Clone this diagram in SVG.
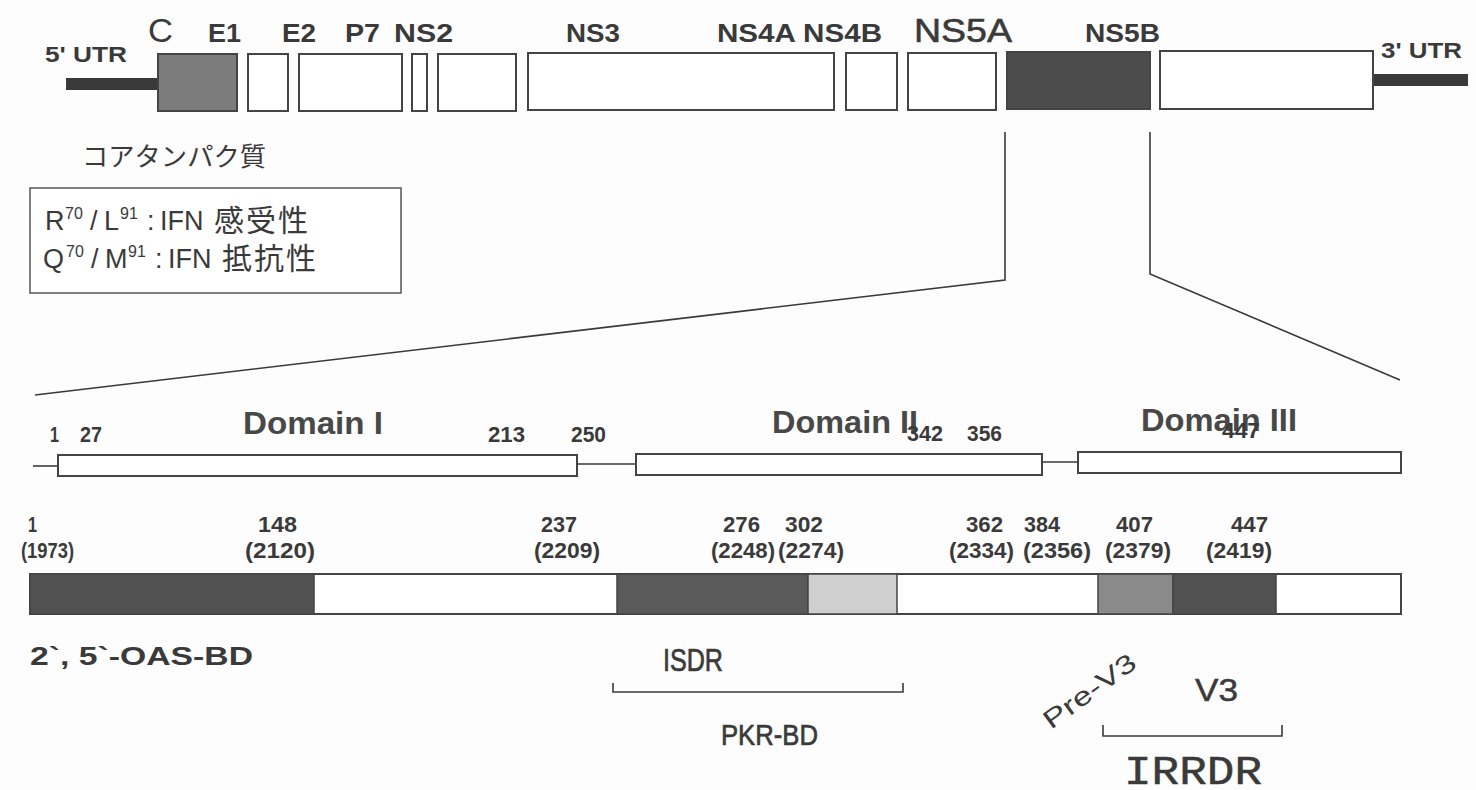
<svg xmlns="http://www.w3.org/2000/svg" width="1476" height="790" viewBox="0 0 1476 790">
<style>
.bg{fill:#fdfdfd}
.box{fill:#fff;stroke:#444;stroke-width:2}
.ln{stroke:#3a3a3a;stroke-width:1.6;fill:none}
.t{font-family:"Liberation Sans",Arial,sans-serif;fill:#3a3a3a}
.b{font-weight:bold}
.cjk{font-family:"Liberation Sans","Noto Sans CJK JP",sans-serif;fill:#3a3a3a}
.num{font-family:"Liberation Sans",Arial,sans-serif;fill:#3a3a3a;font-weight:bold;font-size:22px}
.dom{font-family:"Liberation Sans",Arial,sans-serif;fill:#484848;font-weight:bold;font-size:32px}
</style>
<rect class="bg" x="0" y="0" width="1476" height="790"/>

<g id="genome">
  <rect id="utr5" x="66" y="78" width="92" height="12" fill="#3a3a3a"/>
  <rect id="utr3" x="1373" y="74" width="95" height="12" fill="#3a3a3a"/>
  <rect id="C" class="box" x="158" y="54" width="79" height="57" style="fill:#7c7c7c"/>
  <rect id="E1" class="box" x="248" y="54" width="40" height="57"/>
  <rect id="E2P7" class="box" x="299" y="54" width="103" height="57"/>
  <rect id="NS2a" class="box" x="412" y="54" width="15" height="57"/>
  <rect id="NS2b" class="box" x="438" y="54" width="78" height="57"/>
  <rect id="NS3" class="box" x="528" y="53" width="306" height="57"/>
  <rect id="NS4B" class="box" x="846" y="53" width="51" height="57"/>
  <rect id="NS5A" class="box" x="908" y="53" width="88" height="57"/>
  <rect id="NS5B" class="box" x="1007" y="52" width="143" height="57" style="fill:#4c4c4c"/>
  <rect id="last" class="box" x="1160" y="51" width="213" height="58"/>
</g>

<g id="genome-labels">
  <text class="t b" x="45" y="62" font-size="22" textLength="82" lengthAdjust="spacingAndGlyphs">5' UTR</text>
  <text class="t" x="148" y="42" font-size="33" textLength="25" lengthAdjust="spacingAndGlyphs">C</text>
  <text class="t b" x="208" y="42" font-size="26" textLength="33" lengthAdjust="spacingAndGlyphs">E1</text>
  <text class="t b" x="282" y="42" font-size="26" textLength="34" lengthAdjust="spacingAndGlyphs">E2</text>
  <text class="t b" x="345" y="42" font-size="26" textLength="35" lengthAdjust="spacingAndGlyphs">P7</text>
  <text class="t b" x="394" y="42" font-size="26" textLength="59" lengthAdjust="spacingAndGlyphs">NS2</text>
  <text class="t b" x="566" y="42" font-size="26" textLength="54" lengthAdjust="spacingAndGlyphs">NS3</text>
  <text class="t b" x="717" y="42" font-size="26" textLength="165" lengthAdjust="spacingAndGlyphs">NS4A NS4B</text>
  <text class="t" x="914" y="42" font-size="33" textLength="98" lengthAdjust="spacingAndGlyphs" stroke="#3a3a3a" stroke-width="0.6">NS5A</text>
  <text class="t b" x="1085" y="42" font-size="26" textLength="75" lengthAdjust="spacingAndGlyphs">NS5B</text>
  <text class="t b" x="1381" y="58" font-size="22" textLength="81" lengthAdjust="spacingAndGlyphs">3' UTR</text>
  <text class="cjk" x="82" y="166" font-size="26" textLength="184" lengthAdjust="spacingAndGlyphs">コアタンパク質</text>
</g>

<g id="legend">
  <rect x="30" y="188" width="371" height="105" fill="#fff" stroke="#555" stroke-width="1.5"/>
  <text class="t" font-size="27" y="230"><tspan x="45">R</tspan><tspan x="65" y="219" font-size="16">70</tspan><tspan x="90" y="230">/</tspan><tspan x="104">L</tspan><tspan x="120" y="219" font-size="16">91</tspan><tspan x="147" y="230">:</tspan><tspan x="160">IFN</tspan></text>
  <text class="cjk" x="214" y="231" font-size="30" letter-spacing="2">感受性</text>
  <text class="t" font-size="27" y="268"><tspan x="43">Q</tspan><tspan x="66" y="257" font-size="16">70</tspan><tspan x="91" y="268">/</tspan><tspan x="105">M</tspan><tspan x="128" y="257" font-size="16">91</tspan><tspan x="155" y="268">:</tspan><tspan x="168">IFN</tspan></text>
  <text class="cjk" x="222" y="269" font-size="30" letter-spacing="2">抵抗性</text>
</g>

<g id="connectors">
  <polyline class="ln" points="1005,132 1005,280 35,395"/>
  <polyline class="ln" points="1150,132 1150,274 1400,380"/>
  <line class="ln" x1="33" y1="466" x2="58" y2="466"/>
  <line class="ln" x1="577" y1="464" x2="636" y2="464"/>
  <line class="ln" x1="1042" y1="462" x2="1078" y2="462"/>
  <polyline class="ln" points="613,683 613,692 903,692 903,683"/>
  <polyline class="ln" points="1103,725 1103,736 1282,736 1282,725"/>
</g>

<g id="domains">
  <rect id="dom1" class="box" x="58" y="455" width="519" height="21"/>
  <rect id="dom2" class="box" x="636" y="454" width="406" height="21"/>
  <rect id="dom3" class="box" x="1078" y="452" width="323" height="21"/>
  <text class="dom" x="243" y="434" textLength="140" lengthAdjust="spacingAndGlyphs">Domain I</text>
  <text class="dom" x="772" y="433" textLength="146" lengthAdjust="spacingAndGlyphs">Domain II</text>
  <text class="dom" x="1141" y="431" textLength="156" lengthAdjust="spacingAndGlyphs">Domain III</text>
  <text class="num" x="50" y="442" textLength="9" lengthAdjust="spacingAndGlyphs">1</text>
  <text class="num" x="80" y="442" textLength="22" lengthAdjust="spacingAndGlyphs">27</text>
  <text class="num" x="488" y="442" textLength="37" lengthAdjust="spacingAndGlyphs">213</text>
  <text class="num" x="571" y="442" textLength="35" lengthAdjust="spacingAndGlyphs">250</text>
  <text class="num" x="907" y="441" textLength="36" lengthAdjust="spacingAndGlyphs">342</text>
  <text class="num" x="967" y="441" textLength="35" lengthAdjust="spacingAndGlyphs">356</text>
  <text class="num" x="1222" y="438" textLength="38" lengthAdjust="spacingAndGlyphs">447</text>
</g>

<g id="ns5a-bar">
  <rect x="30" y="574" width="1371" height="40" fill="#fff" stroke="#444" stroke-width="2"/>
  <rect x="30" y="574" width="284" height="40" fill="#525252" stroke="#444" stroke-width="1.5"/>
  <rect x="617" y="574" width="191" height="40" fill="#5a5a5a" stroke="#444" stroke-width="1.5"/>
  <rect x="808" y="574" width="89" height="40" fill="#cfcfcf" stroke="#444" stroke-width="1.5"/>
  <rect x="1098" y="574" width="75" height="40" fill="#8a8a8a" stroke="#444" stroke-width="1.5"/>
  <rect x="1173" y="574" width="103" height="40" fill="#525252" stroke="#444" stroke-width="1.5"/>
</g>

<g id="positions">
  <text class="num" x="28" y="532" textLength="9" lengthAdjust="spacingAndGlyphs">1</text>
  <text class="num" x="21" y="558" textLength="53" lengthAdjust="spacingAndGlyphs">(1973)</text>
  <text class="num" x="258" y="532" textLength="39" lengthAdjust="spacingAndGlyphs">148</text>
  <text class="num" x="245" y="558" textLength="70" lengthAdjust="spacingAndGlyphs">(2120)</text>
  <text class="num" x="541" y="532" textLength="36" lengthAdjust="spacingAndGlyphs">237</text>
  <text class="num" x="534" y="558" textLength="66" lengthAdjust="spacingAndGlyphs">(2209)</text>
  <text class="num" x="723" y="532" textLength="37" lengthAdjust="spacingAndGlyphs">276</text>
  <text class="num" x="711" y="558" textLength="64" lengthAdjust="spacingAndGlyphs">(2248)</text>
  <text class="num" x="785" y="532" textLength="38" lengthAdjust="spacingAndGlyphs">302</text>
  <text class="num" x="778" y="558" textLength="66" lengthAdjust="spacingAndGlyphs">(2274)</text>
  <text class="num" x="966" y="532" textLength="37" lengthAdjust="spacingAndGlyphs">362</text>
  <text class="num" x="949" y="558" textLength="65" lengthAdjust="spacingAndGlyphs">(2334)</text>
  <text class="num" x="1024" y="532" textLength="36" lengthAdjust="spacingAndGlyphs">384</text>
  <text class="num" x="1023" y="558" textLength="68" lengthAdjust="spacingAndGlyphs">(2356)</text>
  <text class="num" x="1116" y="532" textLength="37" lengthAdjust="spacingAndGlyphs">407</text>
  <text class="num" x="1105" y="558" textLength="66" lengthAdjust="spacingAndGlyphs">(2379)</text>
  <text class="num" x="1231" y="532" textLength="37" lengthAdjust="spacingAndGlyphs">447</text>
  <text class="num" x="1206" y="558" textLength="66" lengthAdjust="spacingAndGlyphs">(2419)</text>
</g>

<g id="regions">
  <text class="t b" x="30" y="665" font-size="26" textLength="223" lengthAdjust="spacingAndGlyphs">2`, 5`-OAS-BD</text>
  <text class="t" x="663" y="671" font-size="31" textLength="60" lengthAdjust="spacingAndGlyphs" stroke="#3a3a3a" stroke-width="0.7">ISDR</text>
  <text class="t" x="721" y="745" font-size="30" textLength="97" lengthAdjust="spacingAndGlyphs" stroke="#3a3a3a" stroke-width="0.7">PKR-BD</text>
  <text class="t" x="1195" y="701" font-size="31" textLength="43" lengthAdjust="spacingAndGlyphs" stroke="#3a3a3a" stroke-width="0.5">V3</text>
  <text class="t" x="0" y="0" font-size="26" transform="translate(1051,730) rotate(-36)" textLength="108" lengthAdjust="spacingAndGlyphs">Pre-V3</text>
  <text x="1124" y="784" font-family="'Liberation Mono','DejaVu Sans Mono',monospace" font-size="40" fill="#3a3a3a" textLength="138" lengthAdjust="spacingAndGlyphs" stroke="#3a3a3a" stroke-width="0.5">IRRDR</text>
</g>
</svg>
